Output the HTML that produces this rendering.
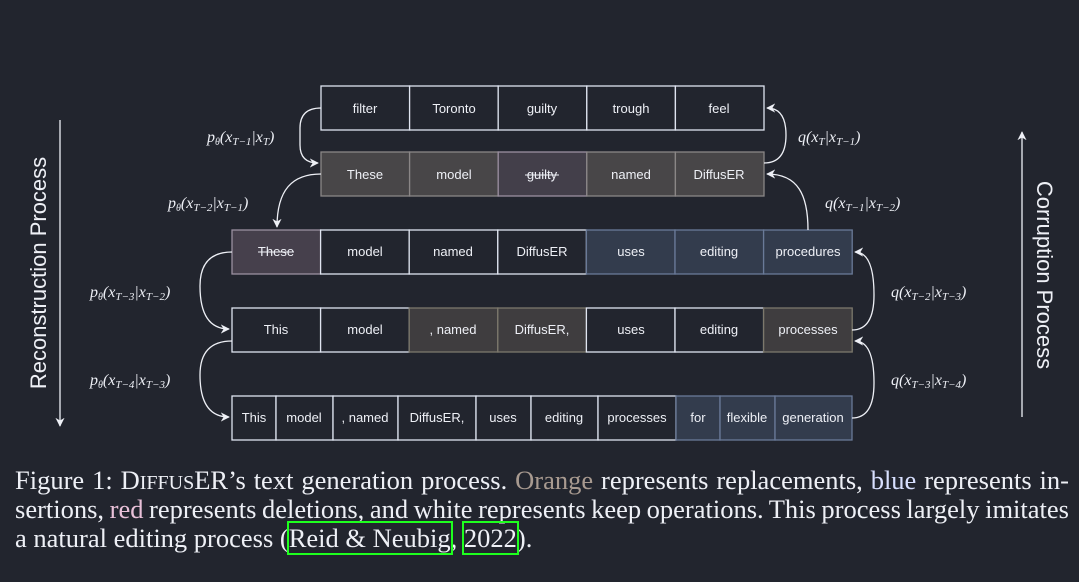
<!DOCTYPE html>
<html><head><meta charset="utf-8"><style>
html,body{margin:0;padding:0;background:#22252e;}
body{width:1079px;height:582px;overflow:hidden;position:relative;}
svg{position:absolute;left:0;top:0;}
.cap{position:absolute;left:15px;top:466px;width:1054px;font-family:"Liberation Serif",serif;font-size:26.5px;line-height:29px;color:#eef0f6;}
.cap div{height:29px;text-align:justify;text-align-last:justify;white-space:nowrap;}
.cap div.l{text-align-last:left;}
.cap div.t{word-spacing:-2.2px;}
.sc{font-size:20px;}
.g{outline:2px solid #1eff1e;}
</style></head><body>
<svg width="1079" height="582" viewBox="0 0 1079 582" xmlns="http://www.w3.org/2000/svg">
<defs>
<marker id="a" viewBox="0 0 10 10" refX="9" refY="5" markerWidth="7" markerHeight="7" orient="auto-start-reverse"><path d="M0,0 L10,5 L0,10 L3,5 z" fill="#eef0f6"/></marker>
</defs>
<g font-family="Liberation Sans, sans-serif" font-size="13" fill="#eef0f6" text-anchor="middle">
<g stroke="#dfe4f0" stroke-width="1.3" fill="#22252e">
<rect x="321" y="86" width="88.6" height="44"/><rect x="409.6" y="86" width="88.6" height="44"/><rect x="498.2" y="86" width="88.6" height="44"/><rect x="586.8" y="86" width="88.6" height="44"/><rect x="675.4" y="86" width="88.6" height="44"/>
</g>
<text x="365" y="113">filter</text><text x="454" y="113">Toronto</text><text x="542" y="113">guilty</text><text x="631" y="113">trough</text><text x="719" y="113">feel</text>
<g stroke="#8a8686" stroke-width="1.3" fill="#484648">
<rect x="321" y="152" width="88.6" height="44"/><rect x="409.6" y="152" width="88.6" height="44"/><rect x="498.2" y="152" width="88.6" height="44" fill="#433f4a" stroke="#9a8fa0"/><rect x="586.8" y="152" width="88.6" height="44"/><rect x="675.4" y="152" width="88.6" height="44"/>
</g>
<text x="365" y="179">These</text><text x="454" y="179">model</text><text x="542" y="179">guilty</text><text x="631" y="179">named</text><text x="719" y="179">DiffusER</text>
<line x1="525" y1="175" x2="559" y2="175" stroke="#eef0f6" stroke-width="1"/>
<g stroke="#dfe4f0" stroke-width="1.3" fill="#22252e">
<rect x="232" y="230" width="88.6" height="44" fill="#46404c" stroke="#9a8fa0"/>
<rect x="320.6" y="230" width="88.6" height="44"/><rect x="409.2" y="230" width="88.6" height="44"/><rect x="497.8" y="230" width="88.6" height="44"/>
<rect x="586.4" y="230" width="88.6" height="44" fill="#333c4d" stroke="#6a7a98"/><rect x="675" y="230" width="88.6" height="44" fill="#333c4d" stroke="#6a7a98"/><rect x="763.6" y="230" width="88.6" height="44" fill="#333c4d" stroke="#6a7a98"/>
</g>
<text x="276" y="256">These</text><line x1="258" y1="252" x2="294" y2="252" stroke="#eef0f6" stroke-width="1"/>
<text x="365" y="256">model</text><text x="453" y="256">named</text><text x="542" y="256">DiffusER</text><text x="631" y="256">uses</text><text x="719" y="256">editing</text><text x="808" y="256">procedures</text>
<g stroke="#dfe4f0" stroke-width="1.3" fill="#22252e">
<rect x="232" y="308" width="88.6" height="44"/><rect x="320.6" y="308" width="88.6" height="44"/>
<rect x="409.2" y="308" width="88.6" height="44" fill="#3f3d3f" stroke="#7c786c"/><rect x="497.8" y="308" width="88.6" height="44" fill="#3f3d3f" stroke="#7c786c"/>
<rect x="586.4" y="308" width="88.6" height="44"/><rect x="675" y="308" width="88.6" height="44"/>
<rect x="763.6" y="308" width="88.6" height="44" fill="#3f3d3f" stroke="#7c786c"/>
</g>
<text x="276" y="334">This</text><text x="365" y="334">model</text><text x="453" y="334">, named</text><text x="542" y="334">DiffusER,</text><text x="631" y="334">uses</text><text x="719" y="334">editing</text><text x="808" y="334">processes</text>
<g stroke="#dfe4f0" stroke-width="1.3" fill="#22252e">
<rect x="232" y="396" width="44" height="44"/><rect x="276" y="396" width="57" height="44"/><rect x="333" y="396" width="65" height="44"/><rect x="398" y="396" width="78" height="44"/><rect x="476" y="396" width="55" height="44"/><rect x="531" y="396" width="67" height="44"/><rect x="598" y="396" width="78" height="44"/>
<rect x="676" y="396" width="44" height="44" fill="#333c4d" stroke="#6a7a98"/><rect x="720" y="396" width="55" height="44" fill="#333c4d" stroke="#6a7a98"/><rect x="775" y="396" width="77" height="44" fill="#333c4d" stroke="#6a7a98"/>
</g>
<text x="254" y="422">This</text><text x="304" y="422">model</text><text x="365" y="422">, named</text><text x="437" y="422">DiffusER,</text><text x="503" y="422">uses</text><text x="564" y="422">editing</text><text x="637" y="422">processes</text><text x="698" y="422">for</text><text x="747" y="422">flexible</text><text x="813" y="422">generation</text>
</g>
<g fill="none" stroke="#eef0f6" stroke-width="1.3">
<path d="M321,108 Q300,108 300,128 L300,145 Q300,163 318,163" marker-end="url(#a)"/>
<path d="M321,174 C292,174 277,190 277,227" marker-end="url(#a)"/>
<path d="M232,252 Q200,252 200,286 Q200,329 229,329" marker-end="url(#a)"/>
<path d="M232,341 Q200,341 200,375 Q200,417 229,417" marker-end="url(#a)"/>
<path d="M764,163 Q786,163 786,135 Q786,108 767,108" marker-end="url(#a)"/>
<path d="M808,230 C808,195 798,174 767,174" marker-end="url(#a)"/>
<path d="M852,330 Q874,330 874,295 Q874,252 855,252" marker-end="url(#a)"/>
<path d="M852,418 Q874,418 874,383 Q874,341 855,341" marker-end="url(#a)"/>
<line x1="60" y1="120" x2="60" y2="426" marker-end="url(#a)"/>
<line x1="1022" y1="417" x2="1022" y2="132" marker-end="url(#a)"/>
</g>
<g font-family="Liberation Sans, sans-serif" font-size="22" fill="#eef0f6" text-anchor="middle">
<text transform="translate(46,273) rotate(-90)">Reconstruction Process</text>
<text transform="translate(1037,275) rotate(90)">Corruption Process</text>
</g>
<g font-family="Liberation Serif, serif" font-style="italic" font-size="16" fill="#eef0f6">
<text x="207" y="142">p<tspan font-size="10" dy="3">θ</tspan><tspan dy="-3">(x</tspan><tspan font-size="11" dy="3">T−1</tspan><tspan dy="-3">|x</tspan><tspan font-size="11" dy="3">T</tspan><tspan dy="-3">)</tspan></text>
<text x="168" y="208">p<tspan font-size="10" dy="3">θ</tspan><tspan dy="-3">(x</tspan><tspan font-size="11" dy="3">T−2</tspan><tspan dy="-3">|x</tspan><tspan font-size="11" dy="3">T−1</tspan><tspan dy="-3">)</tspan></text>
<text x="90" y="297">p<tspan font-size="10" dy="3">θ</tspan><tspan dy="-3">(x</tspan><tspan font-size="11" dy="3">T−3</tspan><tspan dy="-3">|x</tspan><tspan font-size="11" dy="3">T−2</tspan><tspan dy="-3">)</tspan></text>
<text x="90" y="385">p<tspan font-size="10" dy="3">θ</tspan><tspan dy="-3">(x</tspan><tspan font-size="11" dy="3">T−4</tspan><tspan dy="-3">|x</tspan><tspan font-size="11" dy="3">T−3</tspan><tspan dy="-3">)</tspan></text>
<text x="798" y="142">q(x<tspan font-size="11" dy="3">T</tspan><tspan dy="-3">|x</tspan><tspan font-size="11" dy="3">T−1</tspan><tspan dy="-3">)</tspan></text>
<text x="825" y="208">q(x<tspan font-size="11" dy="3">T−1</tspan><tspan dy="-3">|x</tspan><tspan font-size="11" dy="3">T−2</tspan><tspan dy="-3">)</tspan></text>
<text x="891" y="297">q(x<tspan font-size="11" dy="3">T−2</tspan><tspan dy="-3">|x</tspan><tspan font-size="11" dy="3">T−3</tspan><tspan dy="-3">)</tspan></text>
<text x="891" y="385">q(x<tspan font-size="11" dy="3">T−3</tspan><tspan dy="-3">|x</tspan><tspan font-size="11" dy="3">T−4</tspan><tspan dy="-3">)</tspan></text>
</g>
</svg>
<div class="cap">
<div>Figure 1: D<span class="sc">IFFUS</span>ER’s text generation process. <span style="color:#a89a90">Orange</span> represents replacements, <span style="color:#d8e0ff">blue</span> represents in-</div>
<div class="t">sertions, <span style="color:#e8c0d8">red</span> represents deletions, and white represents keep operations. This process largely imitates</div>
<div class="l">a natural editing process (<span class="g">Reid &amp; Neubig</span>, <span class="g">2022</span>).</div>
</div>
</body></html>
